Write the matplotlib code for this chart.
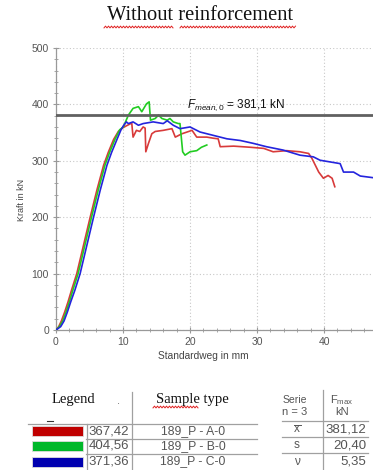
import numpy as np
import matplotlib
matplotlib.use("Agg")
import matplotlib.pyplot as plt
from matplotlib.lines import Line2D
from matplotlib.patches import Rectangle

plt.rcParams['font.family'] = ['Liberation Sans', 'DejaVu Sans']
plt.rcParams['mathtext.fontset'] = 'custom'
plt.rcParams['mathtext.rm'] = 'Liberation Sans'
plt.rcParams['mathtext.it'] = 'Liberation Sans:italic'
plt.rcParams['mathtext.bf'] = 'Liberation Sans:bold'

# ---------------- data ----------------
title = "Without reinforcement"
x_label = "Standardweg in mm"
y_label = "Kraft in kN"
f_mean = 381.1

red_x = [0, 0.4, 0.8, 1.3, 1.8, 2.3, 3.1, 4.1, 5.1, 6.1, 7.1, 7.8, 8.6, 9.3, 9.9, 10.5, 11.0,
         11.3, 11.5, 12.0, 12.5, 13.0, 13.3, 13.4, 13.8, 14.3, 14.8, 16.0, 17.3, 17.8, 18.8,
         20.3, 21.0, 22.5, 23.5, 24.2, 24.5, 26.5, 29.0, 31.0, 32.4, 34.4, 36.4, 37.7, 38.2,
         38.7, 39.2, 39.9, 40.6, 41.2, 41.6]
red_y = [0, 6, 16, 32, 50, 70, 100, 150, 200, 248, 292, 315, 338, 352, 358, 362, 365,
         367, 342, 354, 352, 360, 358, 316, 331, 348, 352, 354, 357, 342, 348,
         354, 342, 342, 340, 339, 325, 326, 324, 322, 316, 318, 316, 313, 304,
         292, 280, 269, 274, 269, 254]

green_x = [0, 0.5, 1.0, 1.5, 2.0, 2.5, 3.3, 4.3, 5.3, 6.3, 7.3, 8.0, 8.8, 9.5, 10.05, 10.8,
           11.5, 12.3, 12.8, 13.5, 13.9, 14.1, 14.8, 15.3, 15.8, 16.6, 17.0, 17.5, 18.25,
           18.5, 18.9, 19.25, 20.0, 21.0, 21.7, 22.5]
green_y = [0, 6, 16, 32, 50, 70, 100, 150, 200, 248, 292, 315, 338, 355, 360, 381,
           393, 396, 387, 401, 404.5, 372, 375, 381, 375, 372, 375, 369, 366,
           366, 316, 310, 316, 318, 324, 328]

blue_x = [0, 0.7, 1.2, 1.7, 2.2, 2.8, 3.6, 4.6, 5.6, 6.6, 7.6, 8.3, 9.1, 9.7, 10.05, 10.5,
          10.8, 11.5, 12.3, 13.0, 14.5, 16.0, 16.6, 17.5, 18.5, 20.0, 21.5, 23.5, 25.5,
          27.5, 29.4, 31.4, 33.9, 36.4, 38.4, 39.4, 40.4, 42.4, 42.9, 44.4, 45.4, 48.0]
blue_y = [0, 6, 16, 32, 50, 70, 100, 150, 200, 248, 292, 315, 338, 355, 362, 369,
          366, 369, 363, 366, 369, 366, 371, 363, 357, 360, 351, 345, 339,
          336, 331, 325, 319, 310, 307, 301, 299, 295, 280, 280, 273, 269]

series_colors = ['#d83a3a', '#22cc22', '#2424dd']
legend_colors = ['#c00000', '#00b82a', '#0000b0']
fmax_values = ['367,42', '404,56', '371,36']
sample_types = ['189_P - A-0', '189_P - B-0', '189_P - C-0']
stat_labels = ['x', 's', 'ν']
stat_values = ['381,12', '20,40', '5,35']

x_ticks = [0, 10, 20, 30, 40]
y_ticks = [0, 100, 200, 300, 400, 500]

# ---------------- figure ----------------
W, H = 373, 470
fig = plt.figure(figsize=(W / 100, H / 100), dpi=100)

def P(px, py):
    return px / W, 1 - py / H

ax = fig.add_axes([56 / W, 1 - 330 / H, (W - 56) / W, (330 - 48) / H])
ax.set_xlim(0, 47.3)
ax.set_ylim(0, 500)

for xs, ys, c in zip([red_x, green_x, blue_x], [red_y, green_y, blue_y], series_colors):
    ax.plot(xs, ys, color=c, lw=1.2, zorder=3)

ax.axhline(f_mean, color='#606060', lw=2.0, zorder=4)
ax.text(19.6, 399, r'$F_{mean,0}$ = 381,1 kN', fontsize=8.5, color='#111111',
        ha='left', va='center', zorder=5)

ax.set_xticks(x_ticks)
ax.set_yticks(y_ticks)
ax.set_xticks(np.arange(0, 48, 2), minor=True)
ax.set_yticks(np.arange(0, 501, 20), minor=True)
ax.tick_params(which='both', direction='inout', color='#999999', labelcolor='#555555',
               labelsize=7.5)
ax.tick_params(which='major', length=4, width=0.8)
ax.tick_params(which='minor', length=3, width=0.6)
ax.tick_params(axis='y', pad=3)
ax.tick_params(axis='x', pad=3)
ax.grid(True, which='major', linestyle=(0, (1, 2)), color='#c8c8c8', lw=0.8)
for s in ['top', 'right']:
    ax.spines[s].set_visible(False)
for s in ['left', 'bottom']:
    ax.spines[s].set_color('#999999')
    ax.spines[s].set_linewidth(0.9)
ax.set_facecolor('white')

fig.text(*P(22, 200), y_label, rotation=90, ha='center', va='center', fontsize=6.5,
         color='#444444')
fig.text(*P(203, 356), x_label, ha='center', va='center', fontsize=7.3, color='#444444')

# title
fig.text(*P(200, 16), title, ha='center', va='center', fontsize=14.8,
         family='Liberation Serif', color='#111111')

def wavy(x0, x1, py, color='#e02020', step=1.5, amp=0.9):
    xs = np.arange(x0, x1, step)
    ys = py + amp * np.where(np.arange(len(xs)) % 2 == 0, 1, -1)
    pts = [P(a, b) for a, b in zip(xs, ys)]
    fig.add_artist(Line2D([p[0] for p in pts], [p[1] for p in pts], color=color, lw=0.7))

wavy(104, 174, 27)
wavy(180, 297, 27)

def hline(x0, x1, py, color='#a0a0a0', lw=0.9):
    a, b = P(x0, py), P(x1, py)
    fig.add_artist(Line2D([a[0], b[0]], [a[1], b[1]], color=color, lw=lw))

def vline(px, y0, y1, color='#a0a0a0', lw=0.9):
    a, b = P(px, y0), P(px, y1)
    fig.add_artist(Line2D([a[0], b[0]], [a[1], b[1]], color=color, lw=lw))

# ---------------- left table ----------------
fig.text(*P(73, 400), 'Legend', ha='center', va='center', fontsize=10.5,
         family='Liberation Serif', color='#111111')
fig.text(*P(118, 401), '.', ha='center', va='center', fontsize=8, color='#666666')
fig.text(*P(192, 400), 'Sample type', ha='center', va='center', fontsize=10.5,
         family='Liberation Serif', color='#111111')
wavy(153, 199, 407)
hline(47, 53, 421, color='#333333', lw=0.8)

vline(132, 392, 470)
vline(86.5, 424, 470)
hline(28, 257, 423.5)
hline(86, 257, 438.5)
hline(86, 257, 453.5)

row_py = [431, 446, 461.5]
rect_top = [426, 441, 456.5]
for i in range(3):
    x0, y0 = P(31.5, rect_top[i] + 10)
    w = (82.5 - 31.5) / W
    h = 10 / H
    fig.add_artist(Rectangle((x0, y0), w, h, facecolor=legend_colors[i],
                             edgecolor='#dddddd', lw=0.6))
    fig.text(*P(129, row_py[i]), fmax_values[i], ha='right', va='center', fontsize=9.5,
             color='#555555')
    fig.text(*P(193, row_py[i]), sample_types[i], ha='center', va='center', fontsize=8.7,
             color='#555555')

# ---------------- right table ----------------
vline(323.3, 390, 470)
hline(282, 368, 421)
hline(282, 368, 437)
hline(282, 368, 453.3)
fig.text(*P(295, 400), 'Serie', ha='center', va='center', fontsize=7.5, color='#555555')
fig.text(*P(295, 412), 'n = 3', ha='center', va='center', fontsize=8, color='#555555')
fig.text(*P(342, 400), r'$\mathrm{F}_{\mathrm{max}}$', ha='center', va='center',
         fontsize=8, color='#555555')
fig.text(*P(342, 412), 'kN', ha='center', va='center', fontsize=8, color='#555555')
stat_py = [429, 445, 462]
for i in range(3):
    fig.text(*P(297, stat_py[i]), stat_labels[i], ha='center', va='center', fontsize=8.5,
             color='#555555')
    fig.text(*P(366, stat_py[i]), stat_values[i], ha='right', va='center', fontsize=9.5,
             color='#555555')
hline(294, 300.5, 424.5, color='#555555', lw=0.7)

fig.savefig('out.png', dpi=100, facecolor='white')
